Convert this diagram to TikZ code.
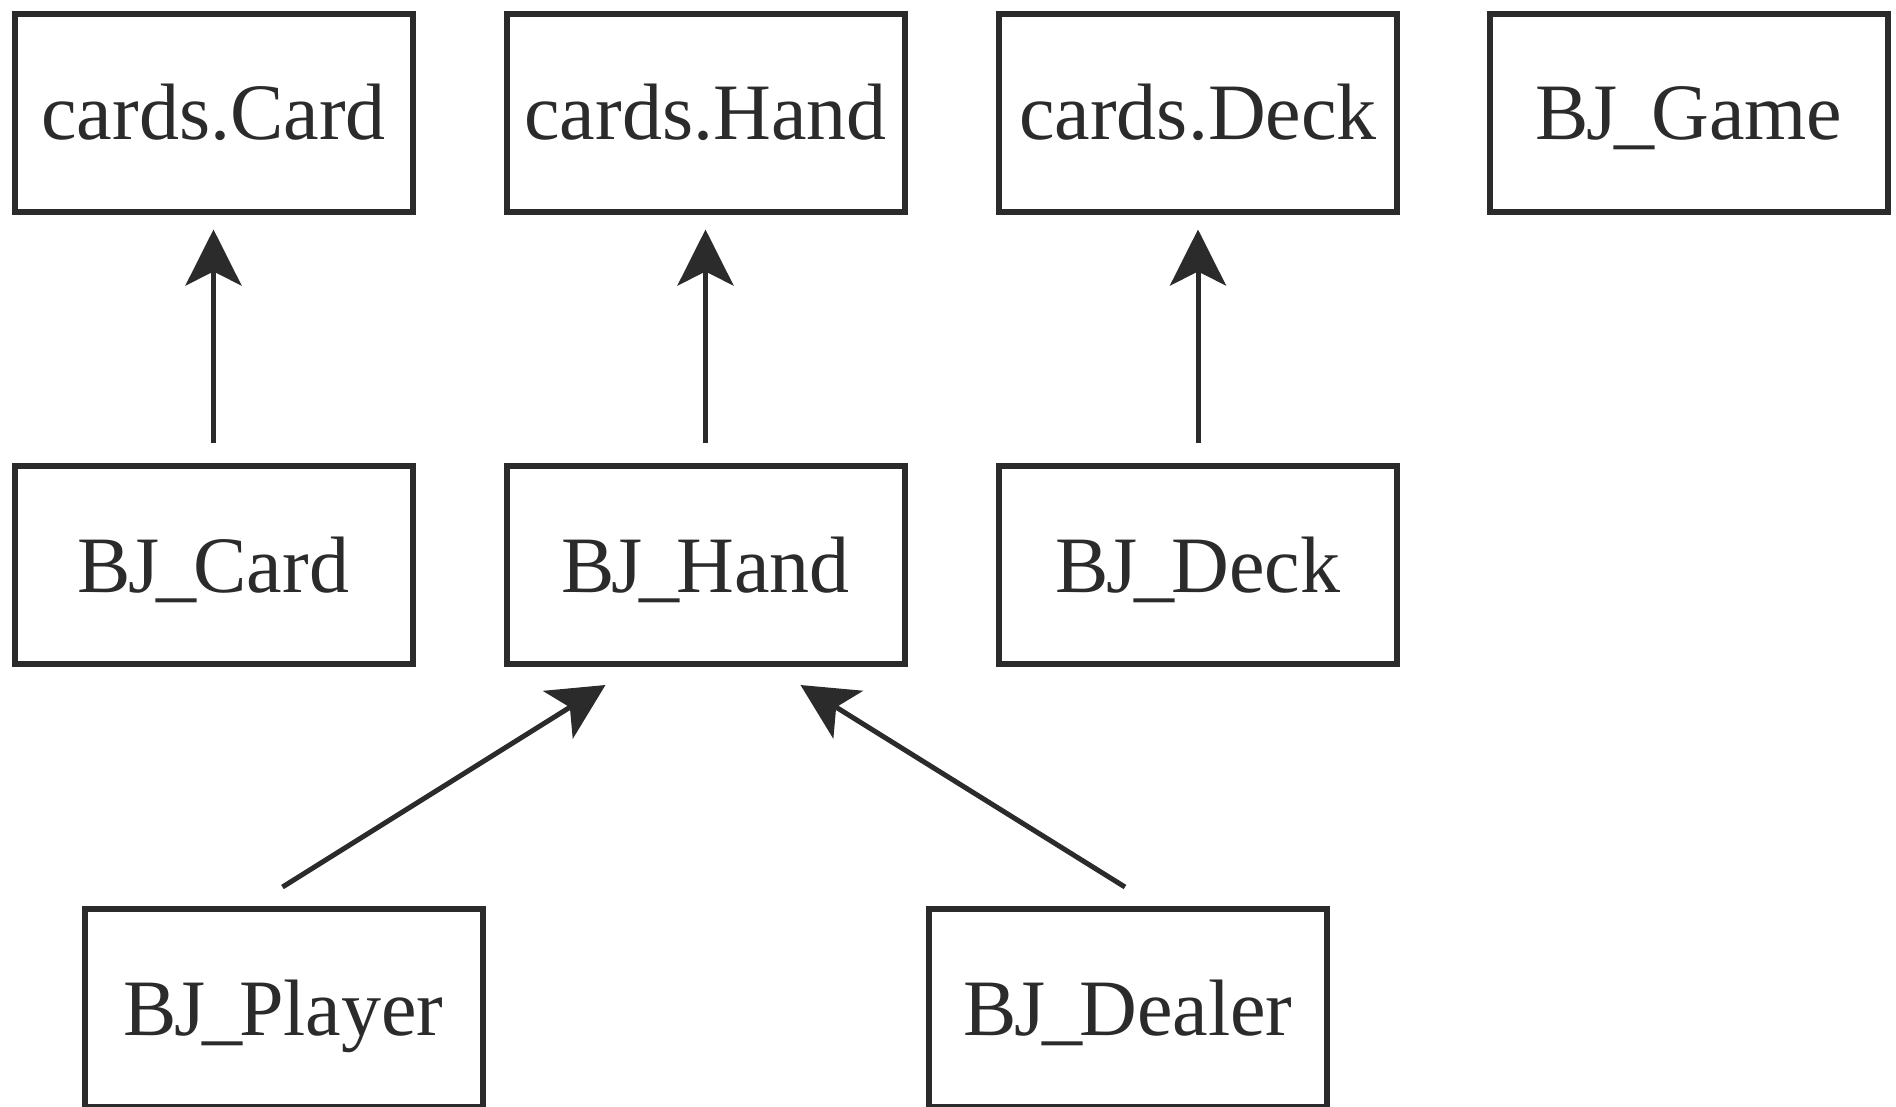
\documentclass[tikz,border=0pt]{standalone}
\usepackage{fontspec}
\setmainfont{Liberation Serif}
\usetikzlibrary{arrows.meta,calc}

\definecolor{ink}{HTML}{2B2B2B}

% "BJ_" prefix set a little tighter
\newcommand{\bjname}[1]{B\kern-0.6pt J\kern-0.8pt\_\kern-0.8pt #1}

\tikzset{
  classbox/.style={draw=ink, line width=1.5pt, rectangle,
    minimum width=99.5pt, minimum height=49.5pt, inner sep=0pt,
    text height=13.7pt, text depth=0pt,
    text=ink, font=\fontsize{20pt}{24pt}\selectfont},
  inherit/.style={draw=ink, line width=1.25pt,
    -{Stealth[length=14pt, width=14pt, inset=3.5pt]}}
}

\begin{document}
\begin{tikzpicture}[x=0.25pt, y=-0.25pt]
  \useasboundingbox (0,0) rectangle (1896,1106);

  % base classes from the cards module
  \node[classbox] (card)  at (213.5,112.5) {cards.Card};
  \node[classbox] (hand)  at (705.5,112.5) {cards.Hand};
  \node[classbox] (deck)  at (1198,112.5)  {cards.Deck};
  \node[classbox] (game)  at (1689,112.5)  {\bjname{Game}};

  % blackjack subclasses
  \node[classbox] (bjcard) at (213.5,565) {\bjname{Card}};
  \node[classbox] (bjhand) at (705.5,565) {\bjname{Hand}};
  \node[classbox] (bjdeck) at (1198,565)  {\bjname{Deck}};

  \node[classbox] (player) at (283.5,1008) {\bjname{Player}};
  \node[classbox] (dealer) at (1128,1008)  {\bjname{Dealer}};

  % inheritance arrows
  \draw[inherit, shorten <=5pt, shorten >=3.75pt] (bjcard.north) -- (card.south);
  \draw[inherit, shorten <=5pt, shorten >=3.75pt] (bjhand.north) -- (hand.south);
  \draw[inherit, shorten <=5pt, shorten >=3.75pt] (bjdeck.north) -- (deck.south);

  \coordinate (ptip) at ($(bjhand.south)+(-100,18)$);
  \coordinate (dtip) at ($(bjhand.south)+(95,18)$);
  \coordinate (pstart) at ($(player.north)+(-1,-19)$);
  \coordinate (dstart) at ($(dealer.north)+(-3,-19)$);
  \draw[inherit] (pstart) -- (ptip);
  \draw[inherit] (dstart) -- (dtip);
\end{tikzpicture}
\end{document}
